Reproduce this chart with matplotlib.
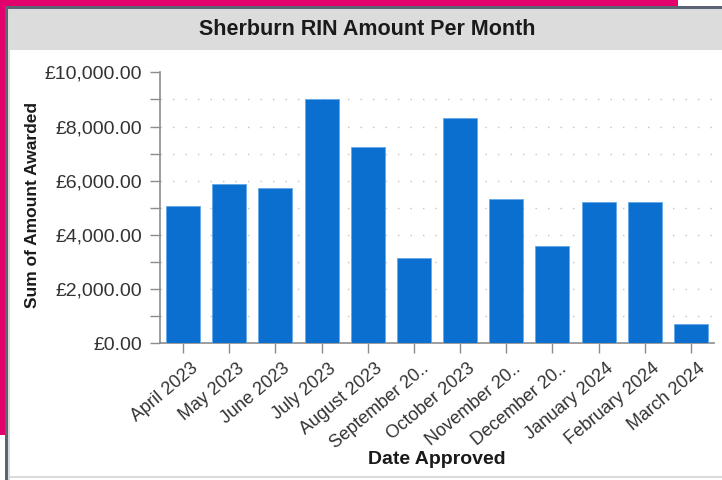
import matplotlib
matplotlib.use("Agg")
import matplotlib.pyplot as plt
from matplotlib.patches import Rectangle
import matplotlib.transforms as mtransforms
import numpy as np

plt.rcParams['font.family'] = ['Liberation Sans', 'DejaVu Sans']

# data
months = ["April 2023", "May 2023", "June 2023", "July 2023", "August 2023",
          "September 20..", "October 2023", "November 20..", "December 20..",
          "January 2024", "February 2024", "March 2024"]
amounts = [5080, 5890, 5720, 9020, 7230, 3130, 8330, 5310, 3590, 5200, 5200, 700]
y_ticks = [0, 2000, 4000, 6000, 8000, 10000]

W, H = 722, 480
fig = plt.figure(figsize=(W / 100, H / 100), dpi=100)
fig.patch.set_facecolor('white')


def px_rect(x0, y0, x1, y1, color):
    # rectangle given in pixels, origin top left
    fig.patches.append(Rectangle((x0 / W, 1 - y1 / H), (x1 - x0) / W, (y1 - y0) / H,
                                 transform=fig.transFigure, color=color, lw=0, zorder=0))


# page frame around the panel
px_rect(0, 0, 5, 435, '#E2006C')
px_rect(0, 0, 678, 6, '#E2006C')
px_rect(5, 6, W, 8.5, '#5B6375')
px_rect(5, 6, 7.5, H, '#5B6375')
px_rect(7.5, 8.5, 10, H, '#DADADA')
px_rect(7.5, 475.5, W, 478, '#DADADA')
px_rect(10, 8.5, W, 50, '#DCDCDC')

fig.text(367.5 / W, 1 - 29.5 / H, "Sherburn RIN Amount Per Month", ha='center', va='center',
         fontsize=15.5, fontweight='bold', color='#1a1a1a')

ax = fig.add_axes([160 / W, 1 - 343.3 / H, (714 - 160) / W, (343.3 - 72.3) / H])
x = np.arange(len(months))
ax.bar(x, amounts, width=0.74, color='#0B6FCF', edgecolor='#6AAAEA', linewidth=0.7, zorder=3)

ax.set_xlim(-0.5, len(months) - 0.5)
ax.set_ylim(0, 10000)

# dotted grid at every thousand (not at the top line)
for g in np.arange(1000, 10000, 1000):
    ax.axhline(g, color='#C4C4C4', lw=1.0, linestyle=(0, (1, 8)), zorder=1)

ax.set_yticks(y_ticks)
ax.set_yticks(np.arange(1000, 10000, 2000), minor=True)
ax.set_yticklabels(['£{:,.2f}'.format(v) for v in y_ticks], fontsize=14, color='#333333')
ax.tick_params(axis='y', which='both', length=7, width=1, color='#8C8C8C', pad=6)

ax.set_xticks(x)
ax.set_xticklabels(months, rotation=40, ha='right', va='top', rotation_mode='anchor',
                   fontsize=13, color='#333333')
ax.tick_params(axis='x', length=7, width=1, color='#8C8C8C', pad=5)
offset = mtransforms.ScaledTranslation(7 / 100, 0, fig.dpi_scale_trans)
for lab in ax.get_xticklabels():
    lab.set_transform(lab.get_transform() + offset)

for s in ['top', 'right']:
    ax.spines[s].set_visible(False)
for s in ['left', 'bottom']:
    ax.spines[s].set_color('#8C8C8C')
    ax.spines[s].set_linewidth(1.2)

fig.text(33 / W, 1 - 205 / H, "Sum of Amount Awarded", rotation=90, ha='center', va='center',
         fontsize=12.5, fontweight='bold', color='#1a1a1a')
fig.text(437 / W, 1 - 460 / H, "Date Approved", ha='center', va='center',
         fontsize=14, fontweight='bold', color='#1a1a1a')

fig.savefig('out.png', dpi=100)
